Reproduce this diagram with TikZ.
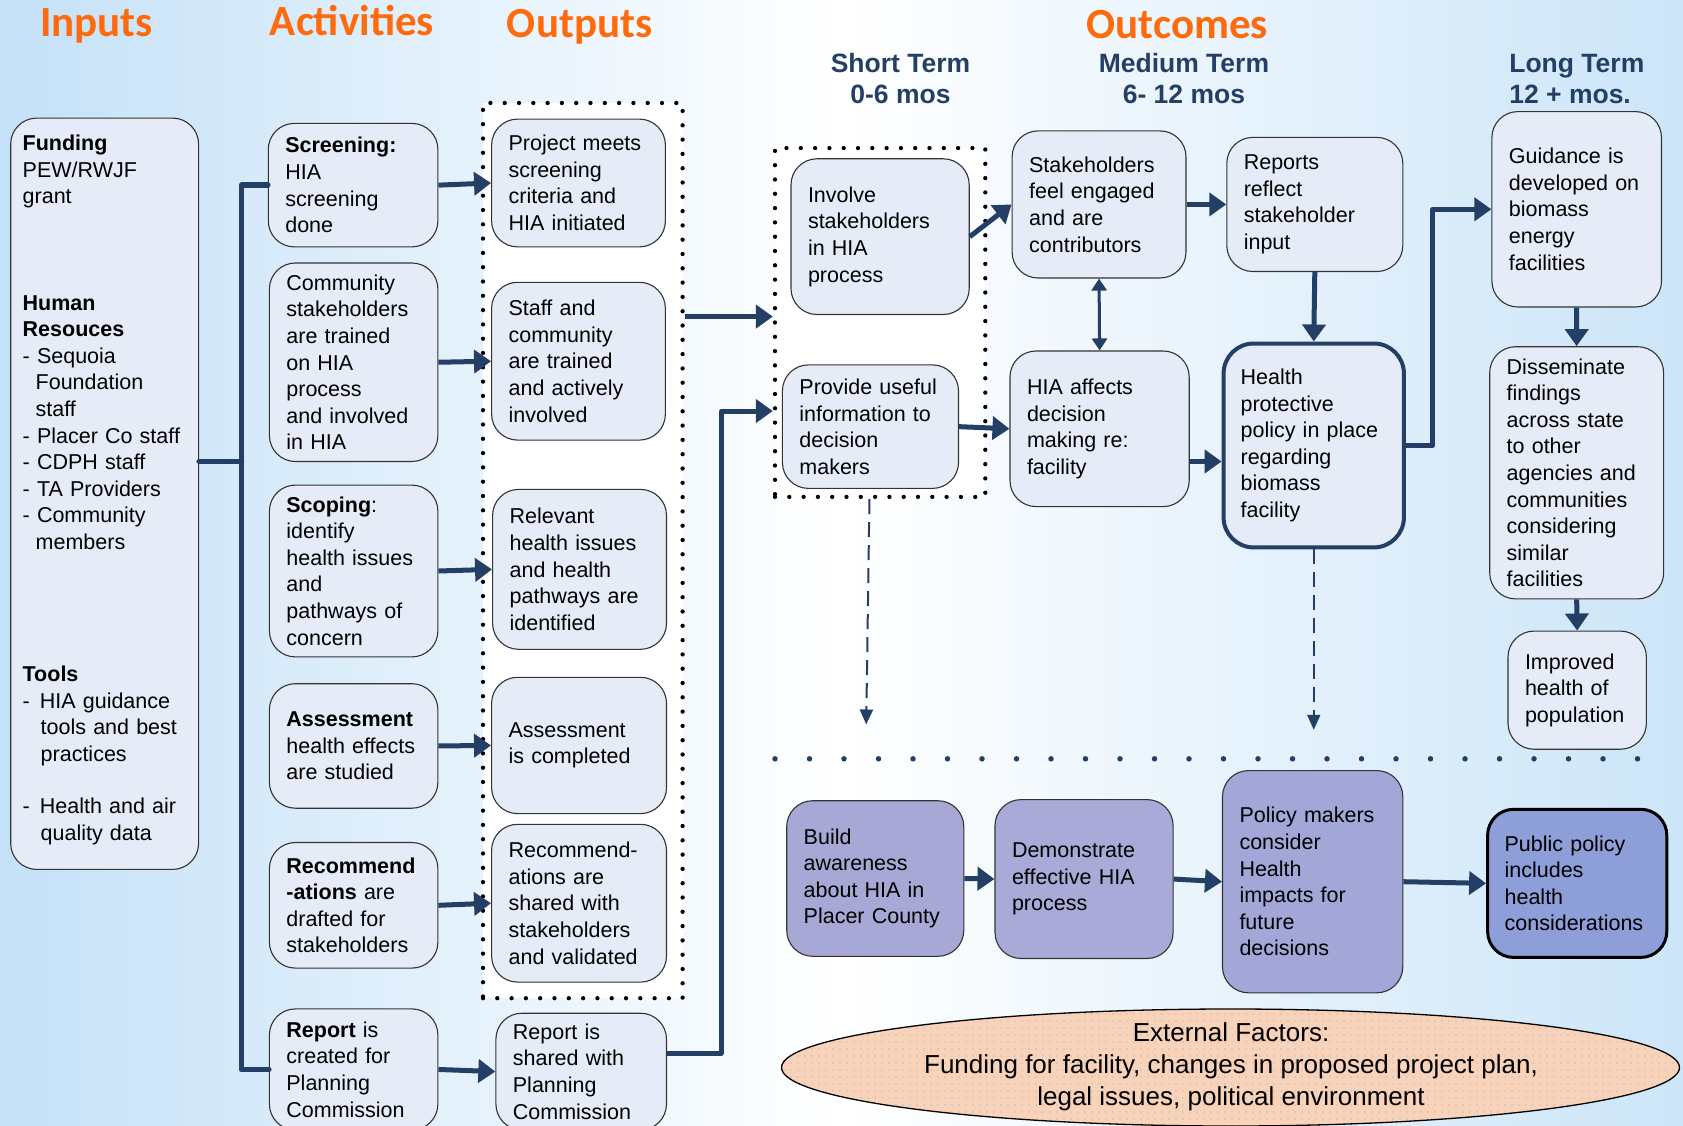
\documentclass[tikz,border=0pt]{standalone}
\usepackage{fontspec}
\setmainfont{Liberation Sans}
\newfontfamily\titlefont{Carlito}
\usetikzlibrary{arrows.meta,shapes.geometric,patterns.meta}
\definecolor{navy}{HTML}{243F66}
\definecolor{boxfill}{HTML}{E6ECF7}
\definecolor{orng}{HTML}{FF6A0C}
\definecolor{purpA}{HTML}{A8A8D6}
\definecolor{purpB}{HTML}{A9AAD8}
\definecolor{purpC}{HTML}{A2A7D8}
\definecolor{purpD}{HTML}{8E9ED8}
\definecolor{peach}{HTML}{F9D2BA}
\definecolor{bgL}{HTML}{C4E1F7}
\definecolor{bgR}{HTML}{CCE5F8}
\tikzdeclarepattern{
  name=peachdots,
  type=uncolored,
  bounding box={(-3.5pt,-3.5pt) and (3.5pt,3.5pt)},
  tile size={(7pt,7pt)},
  code={\pgfpathcircle{\pgfpointorigin}{0.9pt}\pgfusepath{fill}}
}
\newcommand\mybox[7][]{%
  \pgfmathsetmacro\mbw{#5-#3}%
  \pgfmathsetmacro\mbh{#6-#4}%
  \pgfmathsetmacro\mbt{#5-#3-34}%
  \pgfmathsetmacro\mbx{(#3+#5)/2}%
  \pgfmathsetmacro\mby{(#4+#6)/2}%
  \node[bx,minimum width=\mbw pt,minimum height=\mbh pt,text width=\mbt pt,#1] (#2) at (\mbx,\mby) {#7};%
}
\begin{document}
\begin{tikzpicture}[x=1pt,y=-1pt,
  bx/.style={draw=black!80, line width=1.1pt, rounded corners=26pt, fill=boxfill, align=left,
    inner xsep=17pt, inner ysep=0pt, text=black, font=\fontsize{21.5}{26.6}\selectfont},
  dotbox/.style={draw=black, line width=4.3pt, dash pattern=on 0pt off 14.3pt, line cap=round,
    fill=white, inner sep=0pt},
  arr/.style={draw=navy, line width=5pt, -{Triangle[length=17pt,width=23pt]}},
  bus/.style={draw=navy, line width=5.5pt, line join=round, line cap=round},
  dasharr/.style={draw=navy, line width=2pt, dash pattern=on 15pt off 8pt, -{Triangle[length=15pt,width=13pt]}},
  dblarr/.style={draw=navy, line width=3pt, {Triangle[length=12pt,width=15pt]}-{Triangle[length=12pt,width=15pt]}},
  ttl/.style={font=\titlefont\bfseries\fontsize{43}{50}\selectfont, text=orng, anchor=base},
  sub/.style={font=\bfseries\fontsize{26.5}{32}\selectfont, text=navy, anchor=base},
]
\useasboundingbox (0,0) rectangle (1683,1126);
\clip (0,0) rectangle (1683,1126);
\shade[left color=bgL, right color=bgR, middle color=white] (0,0) rectangle (1683,1126);

% titles
\node[ttl] (tin) at (96.6,36.5) {Inputs};
\node[ttl] (tact) at (352,36) {Activities};
\node[ttl] (tout) at (579.6,37.5) {Outputs};
\node[ttl] (toc) at (1177.4,38.3) {Outcomes};
\node[sub] (st1) at (900.5,72.7) {Short Term};
\node[sub] (st2) at (900.5,104) {0-6 mos};
\node[sub] (mt1) at (1183.9,72.7) {Medium Term};
\node[sub] (mt2) at (1183.9,104) {6- 12 mos};
\node[sub,anchor=base west] (lt1) at (1505.8,72.7) {Long Term};
\node[sub,anchor=base west] (lt2) at (1505.8,104) {12 + mos.};

% dotted group boxes
\node[dotbox, minimum width=199.6pt, minimum height=895.2pt] (outbox) at (582.8,550.6) {};
\node[dotbox, minimum width=210.3pt, minimum height=348.8pt] (stbox) at (880.15,322.5) {};

% inputs
\mybox[inner xsep=12pt,text width=163.9pt]{fund}{10.7}{118.1}{198.6}{869.4}{%
\textbf{Funding}\\
PEW/RWJF\\
grant\\[79.8pt]
\textbf{Human}\\
\textbf{Resouces}\\
- Sequoia\\
\hspace*{13pt}Foundation\\
\hspace*{13pt}staff\\
- Placer Co staff\\
- CDPH staff\\
- TA Providers\\
- Community\\
\hspace*{13pt}members\\[105.5pt]
\textbf{Tools}\\
-\hspace{10pt}HIA guidance\\
\hspace*{18pt}tools and best\\
\hspace*{18pt}practices\\[26pt]
-\hspace{10pt}Health and air\\
\hspace*{18pt}quality data\\[-14.6pt]\mbox{}}

% activities
\mybox{scr}{268.3}{123.4}{437.9}{246.9}{\textbf{Screening:}\\HIA\\screening\\done}
\mybox{com}{269.4}{263}{437.9}{461.5}{Community\\stakeholders\\are trained\\on HIA\\process\\and involved\\in HIA}
\mybox{scp}{269.4}{485.1}{437.9}{656.9}{\textbf{Scoping}:\\identify\\health issues\\and\\pathways of\\concern}
\mybox{ass}{269.4}{683.7}{437.9}{808.2}{\textbf{Assessment}\\health effects\\are studied}
\mybox{rec}{269.4}{842.5}{437.9}{968.1}{\textbf{Recommend}\\\textbf{-ations} are\\drafted for\\stakeholders}
\mybox{rc}{269.4}{1008.9}{437.9}{1130}{\textbf{Report} is\\created for\\Planning\\Commission}

% outputs
\mybox{pmt}{491.6}{119.1}{665.4}{246.9}{Project meets\\screening\\criteria and\\HIA initiated}
\mybox{stf}{491.6}{282.3}{665.4}{440.1}{Staff and\\community\\are trained\\and actively\\involved}
\mybox{rel}{492.6}{489.4}{666.5}{649.3}{Relevant\\health issues\\and health\\pathways are\\identified}
\mybox{asc}{491.6}{677.3}{666.5}{813.6}{Assessment\\is completed}
\mybox{rcs}{491.6}{824.3}{666.5}{982.1}{Recommend-\\ations are\\shared with\\stakeholders\\and validated}
\mybox{rs}{495.9}{1013.2}{666.5}{1130}{Report is\\shared with\\Planning\\Commission}

% outcomes
\mybox{inv}{791}{158.8}{969.2}{314.5}{Involve\\stakeholders\\in HIA\\process}
\mybox{pui}{782.4}{364.9}{958.5}{488.4}{Provide useful\\information to\\decision\\makers}
\mybox{sfe}{1012.1}{130.9}{1186}{278}{Stakeholders\\feel engaged\\and are\\contributors}
\mybox{rr}{1226.8}{137.4}{1402.8}{271.5}{Reports\\reflect\\stakeholder\\input}
\mybox{hia}{1010}{351}{1189.2}{506.6}{HIA affects\\decision\\making re:\\facility}
\mybox[draw=navy,line width=4pt,rounded corners=30pt]{hp}{1223.6}{343.5}{1403.9}{547.4}{Health\\protective\\policy in place\\regarding\\biomass\\facility}
\mybox{gd}{1491.9}{111.6}{1661.5}{307}{Guidance is\\developed on\\biomass\\energy\\facilities}
\mybox{dis}{1489.7}{346.7}{1663.6}{598.9}{Disseminate\\findings\\across state\\to other\\agencies and\\communities\\considering\\similar\\facilities}
\mybox{imp}{1508}{631.1}{1646.4}{749.2}{Improved\\health of\\population}

% separator
\draw[navy, line width=5.5pt, dash pattern=on 0pt off 34.5pt, line cap=round] (775,758.8) -- (1650,758.8);

% lower row
\mybox[fill=purpA]{ba}{786.7}{800.7}{963.8}{956.3}{Build\\awareness\\about HIA in\\Placer County}
\mybox[fill=purpB]{dm}{995}{799.6}{1173.1}{958.5}{Demonstrate\\effective HIA\\process}
\mybox[fill=purpC]{pmk}{1222.5}{770.6}{1402.8}{992.8}{Policy makers\\consider\\Health\\impacts for\\future\\decisions}
\mybox[fill=purpD,draw=black,line width=3pt]{pp}{1487.6}{809.3}{1666.8}{957.4}{Public policy\\includes\\health\\considerations}

% external factors
\node[ellipse, draw=black, line width=1.3pt, fill=peach, minimum width=898pt, minimum height=117pt, inner sep=0pt,
  path picture={\fill[pattern=peachdots, pattern color=black!25] (path picture bounding box.south west) rectangle (path picture bounding box.north east);}]
  (ext) at (1230.5,1067.5) {};
\node[align=center, font=\fontsize{26}{32.2}\selectfont, text=black] (extt) at (1231,1067) {External Factors:\\Funding for facility, changes in proposed project plan,\\legal issues, political environment};

% coordinates
\coordinate (busx) at (241.5,0);
\coordinate (fy) at (0,461.5);
\coordinate (y1) at (0,316.6);
\coordinate (ry) at (0,1053);
\coordinate (py) at (721.3,411);
\coordinate (hy) at (0,461.5);
\coordinate (hgy) at (0,445.4);
\coordinate (hg) at (1432.8,209.3);
\coordinate (d1) at (866.2,724.5);
\coordinate (d2) at (1313.75,729.8);

% input bus
\draw[bus] (scr.west) -| (busx |- rc.west) -- (rc.west);
\draw[bus] (fund.east |- fy) -- (busx |- fy);

% activities -> outputs
\draw[arr] (scr.east) -- (pmt.west);
\draw[arr] (com.east) -- (stf.west);
\draw[arr] (scp.east) -- (rel.west);
\draw[arr] (ass.east) -- (asc.west);
\draw[arr] (rec.east) -- (rcs.west);
\draw[arr] (rc.east) -- (rs.west);

% outputs -> outcomes
\draw[arr] (outbox.east |- y1) -- (stbox.west |- y1);
\draw[arr, line join=round] (rs.east |- ry) -| (py) -- (stbox.west |- py);

% outcomes
\draw[arr] (inv.east) -- (sfe.west);
\draw[arr] (pui.east) -- (hia.west);
\draw[dblarr] (sfe.south) -- (hia.north);
\draw[arr] (sfe.east) -- (rr.west);
\draw[arr] (rr.south) -- (hp.north);
\draw[arr] (hia.east |- hy) -- (hp.west |- hy);
\draw[arr, line join=round] (hp.east |- hgy) -- (hg |- hgy) -- (hg) -- (gd.west);
\draw[arr] (gd.south) -- (dis.north);
\draw[arr] (dis.south) -- (imp.north);
\draw[dasharr] ([xshift=-10.7pt]stbox.south) -- (d1);
\draw[dasharr] (hp.south) -- (d2);

% lower row
\draw[arr] (ba.east) -- (dm.west);
\draw[arr] (dm.east) -- (pmk.west);
\draw[arr] (pmk.east) -- (pp.west);
\end{tikzpicture}
\end{document}
